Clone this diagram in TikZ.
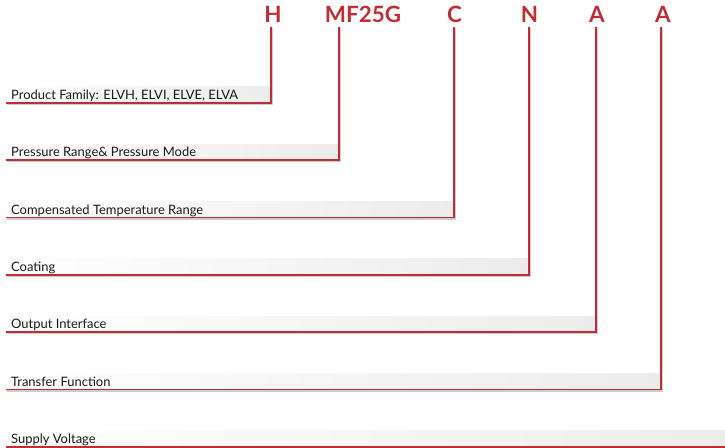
\documentclass[tikz,border=0pt]{standalone}
\usepackage{fontspec}
\setmainfont{Lato}
\newfontfamily\codefont{Lato}
\definecolor{codered}{RGB}{192,45,50}
\definecolor{barright}{RGB}{236,236,236}
\begin{document}
\begin{tikzpicture}[x=1bp,y=-1bp,
  code/.style={font=\codefont\bfseries\fontsize{22.5}{22.5}\selectfont, text=codered, inner sep=0pt, anchor=base},
  lbl/.style={font=\fontsize{13}{14}\selectfont, text=black!90, inner sep=0pt, anchor=base west},
  bar/.style={shading=axis, left color=white, right color=barright, shading angle=90, inner sep=0pt, outer sep=0pt, minimum height=16bp, anchor=south west},
  redline/.style={draw=codered, line width=1.7bp, line cap=rect},
  shadowline/.style={draw=black!20, line width=1.5bp}]
\useasboundingbox (0,0) rectangle (725,448);
\clip (0,0) rectangle (725,448);
% code letters
\node[code] (c1) at (273,23) {H};
\node[code] (c2) at (363,23) {MF25G};
\node[code] (c3) at (454.5,23) {C};
\node[code] (c4) at (529.5,23) {N};
\node[code] (c5) at (597,23) {A};
\node[code] (c6) at (663,23) {A};
\node[code] (c7) at (731,23) {5};
% line tops
\coordinate (t1) at (271,28);
\coordinate (t2) at (339,28);
\coordinate (t3) at (454,28);
\coordinate (t4) at (529,28);
\coordinate (t5) at (596,28);
\coordinate (t6) at (661,28);
\coordinate (t7) at (735,28);
% bars
\node[bar, minimum width=264bp] (b1) at (7,103) {};
\node[bar, minimum width=332bp] (b2) at (7,160.3) {};
\node[bar, minimum width=447bp] (b3) at (7,217.6) {};
\node[bar, minimum width=522bp] (b4) at (7,274.9) {};
\node[bar, minimum width=589bp] (b5) at (7,332.2) {};
\node[bar, minimum width=654bp] (b6) at (7,389.5) {};
\node[bar, minimum width=728bp] (b7) at (7,446.8) {};
% labels
\node[lbl] (l1) at (11,99.5) {Product Family: ELVH, ELVI, ELVE, ELVA};
\node[lbl] (l2) at (11,156.8) {Pressure Range\& Pressure Mode};
\node[lbl] (l3) at (11,214.1) {Compensated Temperature Range};
\node[lbl] (l4) at (11,271.4) {Coating};
\node[lbl] (l5) at (11,328.7) {Output Interface};
\node[lbl] (l6) at (11,386) {Transfer Function};
\node[lbl] (l7) at (11,443.3) {Supply Voltage};
% connectors
\foreach \i in {1,...,7}{
  \draw[shadowline] ([shift={(0,1.3)}]b\i.south west) -- ([shift={(1.3,1.3)}]b\i.south east) -- ([shift={(1.3,0)}]b\i.south east |- t\i);
  \draw[redline] (b\i.south west) -- (b\i.south east) -- (b\i.south east |- t\i);
}
\end{tikzpicture}
\end{document}
